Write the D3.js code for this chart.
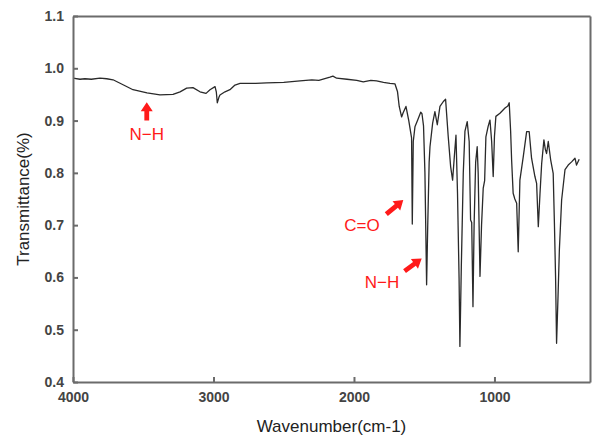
<!DOCTYPE html>
<html>
<head>
<meta charset="utf-8">
<script src="https://cdn.jsdelivr.net/npm/d3@7"></script>
<style>
  body { margin: 0; background: #fff; }
  svg { display: block; font-family: "Liberation Sans", Arial, sans-serif; }
  .axis path, .axis line { stroke: #6b6b6b; stroke-width: 2; }
  .axis text { font-size: 14px; font-weight: bold; fill: #444; }
</style>
</head>
<body>
<svg id="chart" width="593" height="440"></svg>
<script>
// IR spectrum, wavenumber (cm-1) vs transmittance
const wavenumbers = [4000, 3950, 3915, 3870, 3808, 3760, 3715, 3640, 3573, 3473, 3381, 3288, 3238, 3191, 3146, 3096, 3053, 3025, 2989, 2980, 2973, 2962, 2954, 2918, 2883, 2847, 2811, 2700, 2621, 2500, 2384, 2300, 2250, 2171, 2150, 2123, 2050, 1980, 1934, 1880, 1839, 1790, 1744, 1708, 1690, 1678, 1661, 1650, 1630, 1610, 1590, 1585, 1578, 1566, 1545, 1525, 1516, 1505, 1495, 1483, 1475, 1465, 1459, 1440, 1424, 1407, 1388, 1365, 1348, 1329, 1312, 1298, 1286, 1274, 1263, 1252, 1246, 1236, 1222, 1210, 1194, 1180, 1170, 1162, 1153, 1145, 1134, 1123, 1116, 1103, 1092, 1080, 1070, 1061, 1045, 1032, 1020, 1009, 1000, 990, 961, 925, 905, 895, 885, 878, 867, 855, 842, 831, 819, 795, 771, 753, 736, 712, 700, 688, 676, 664, 648, 638, 629, 617, 600, 582, 573, 565, 558, 548, 538, 522, 498, 475, 451, 427, 416, 397];
const transmittance = [0.981, 0.979, 0.980, 0.979, 0.981, 0.980, 0.978, 0.968, 0.959, 0.953, 0.949, 0.950, 0.955, 0.962, 0.963, 0.955, 0.952, 0.959, 0.965, 0.955, 0.934, 0.944, 0.949, 0.955, 0.959, 0.968, 0.971, 0.971, 0.972, 0.973, 0.976, 0.978, 0.977, 0.983, 0.985, 0.981, 0.979, 0.977, 0.974, 0.977, 0.976, 0.973, 0.971, 0.970, 0.955, 0.927, 0.907, 0.915, 0.927, 0.900, 0.867, 0.702, 0.860, 0.888, 0.902, 0.916, 0.913, 0.890, 0.800, 0.586, 0.700, 0.820, 0.850, 0.895, 0.917, 0.892, 0.927, 0.936, 0.941, 0.869, 0.812, 0.786, 0.830, 0.872, 0.760, 0.600, 0.468, 0.620, 0.800, 0.880, 0.898, 0.860, 0.710, 0.705, 0.544, 0.700, 0.820, 0.850, 0.800, 0.602, 0.700, 0.771, 0.785, 0.869, 0.889, 0.901, 0.860, 0.793, 0.870, 0.908, 0.914, 0.924, 0.928, 0.934, 0.880, 0.825, 0.761, 0.750, 0.742, 0.649, 0.786, 0.831, 0.879, 0.879, 0.828, 0.793, 0.780, 0.697, 0.760, 0.818, 0.863, 0.845, 0.837, 0.860, 0.825, 0.799, 0.700, 0.600, 0.474, 0.560, 0.653, 0.748, 0.806, 0.815, 0.821, 0.828, 0.815, 0.826];

const xTicks = [4000, 3000, 2000, 1000];
const yTicks = [0.4, 0.5, 0.6, 0.7, 0.8, 0.9, 1.0, 1.1];

// annotations: label, text position, arrow tail -> tip (data units)
const noteLabels = ["N\u2212H", "C=O", "N\u2212H"];
const noteText = [[3475, 0.863], [1943, 0.689], [1800, 0.580]];
const noteArrows = [[[3475, 0.900], [3475, 0.935]], [[1770, 0.721], [1649, 0.748]], [[1640, 0.612], [1518, 0.636]]];

const svg = d3.select("#chart");
const margin = {left: 73, top: 16, right: 3, bottom: 58};
const W = 593, H = 440;

const x = d3.scaleLinear().domain([4000, 320]).range([margin.left, W - margin.right]);
const y = d3.scaleLinear().domain([0.4, 1.1]).range([H - margin.bottom, margin.top]);

svg.append("rect").attr("width", W).attr("height", H).attr("fill", "#fff");

const data = wavenumbers.map((w, i) => [w, transmittance[i]]);

svg.append("path")
    .datum(data)
    .attr("fill", "none")
    .attr("stroke", "#2a2a2a")
    .attr("stroke-width", 1.3)
    .attr("stroke-linejoin", "round")
    .attr("d", d3.line().x(d => x(d[0])).y(d => y(d[1])));

// frame
svg.append("g").attr("class", "axis")
    .attr("transform", `translate(0,${margin.top})`)
    .call(d3.axisTop(x).tickValues([]).tickSizeOuter(0));
svg.append("g").attr("class", "axis")
    .attr("transform", `translate(${W - margin.right},0)`)
    .call(d3.axisRight(y).tickValues([]).tickSizeOuter(0));

svg.append("g").attr("class", "axis")
    .attr("transform", `translate(0,${H - margin.bottom})`)
    .call(d3.axisBottom(x).tickValues(xTicks).tickSizeInner(-5).tickSizeOuter(0).tickPadding(10).tickFormat(d3.format("d")));

svg.append("g").attr("class", "axis")
    .attr("transform", `translate(${margin.left},0)`)
    .call(d3.axisLeft(y).tickValues(yTicks).tickSizeInner(-5).tickSizeOuter(0).tickPadding(9).tickFormat(d3.format(".1f")));

svg.append("text")
    .attr("x", (x.range()[0] + x.range()[1]) / 2)
    .attr("y", 432)
    .attr("text-anchor", "middle")
    .style("font-size", "17px")
    .style("fill", "#222")
    .text("Wavenumber(cm-1)");

svg.append("text")
    .attr("transform", `translate(29,${(y.range()[0] + y.range()[1]) / 2}) rotate(-90)`)
    .attr("text-anchor", "middle")
    .style("font-size", "17px")
    .style("fill", "#222")
    .text("Transmittance(%)");

// red block arrows
function blockArrow(p0, p1) {
    const dx = p1[0] - p0[0], dy = p1[1] - p0[1];
    const len = Math.hypot(dx, dy);
    const ux = dx / len, uy = dy / len, nx = -uy, ny = ux;
    const head = 9, hw = 6, sw = 2.4;
    const bx = p1[0] - ux * head, by = p1[1] - uy * head;
    const pts = [
        [p0[0] + nx * sw, p0[1] + ny * sw],
        [bx + nx * sw, by + ny * sw],
        [bx + nx * hw, by + ny * hw],
        [p1[0], p1[1]],
        [bx - nx * hw, by - ny * hw],
        [bx - nx * sw, by - ny * sw],
        [p0[0] - nx * sw, p0[1] - ny * sw]
    ];
    return "M" + pts.map(p => p.join(",")).join("L") + "Z";
}

const notes = svg.append("g");
noteArrows.forEach(a => {
    notes.append("path")
        .attr("d", blockArrow([x(a[0][0]), y(a[0][1])], [x(a[1][0]), y(a[1][1])]))
        .attr("fill", "#ff1a1a");
});
noteLabels.forEach((t, i) => {
    notes.append("text")
        .attr("x", x(noteText[i][0]))
        .attr("y", y(noteText[i][1]))
        .attr("text-anchor", "middle")
        .style("font-size", "17px")
        .style("fill", "#ff1a1a")
        .text(t);
});
</script>
</body>
</html>
